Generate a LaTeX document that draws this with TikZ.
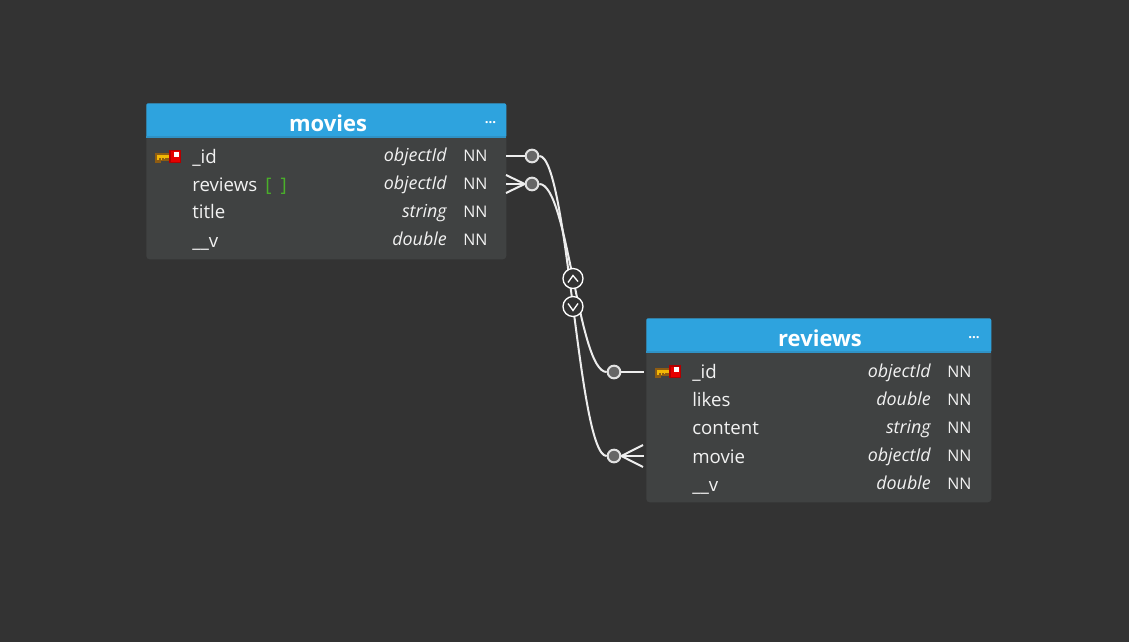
\documentclass[tikz,border=0pt]{standalone}
\usepackage{fontspec}
\setmainfont{Open Sans}
\usetikzlibrary{calc, positioning}
\definecolor{bgcol}{HTML}{333333}
\definecolor{tblcol}{HTML}{404242}
\definecolor{headcol}{HTML}{2EA3DE}
\definecolor{stripecol}{HTML}{2F92C6}
\definecolor{txtcol}{HTML}{F2F2F2}
\definecolor{linecol}{HTML}{EDEDED}
\definecolor{brackcol}{HTML}{4AB02A}
\definecolor{keybrown}{HTML}{8E5C12}
\definecolor{keyyellow}{HTML}{F2B705}
\tikzstyle{tbl}=[inner sep=0pt, draw=none, fill=tblcol, rounded corners=2.5pt, anchor=north west]
\tikzstyle{head}=[inner sep=0pt, fill=headcol, rounded corners=1.5pt, anchor=north west, text=white, font=\fontsize{16.5}{18}\selectfont\bfseries]
\tikzstyle{dots}=[inner sep=0pt, anchor=base, text=white, font=\fontsize{10}{10}\selectfont\bfseries]
\tikzstyle{fname}=[inner sep=0pt, anchor=base west, text=txtcol, font=\fontsize{14}{15}\selectfont]
\tikzstyle{ftype}=[inner sep=0pt, anchor=base east, text=txtcol, font=\fontsize{13.4}{14}\selectfont\itshape]
\tikzstyle{fnn}=[inner sep=0pt, anchor=base west, text=txtcol, font=\fontsize{12}{14}\selectfont]
\tikzstyle{vtx}=[inner sep=0pt, draw=linecol!90!gray, fill=black!60, shape=circle, line width=1.5pt, minimum size=9.5pt]
\tikzstyle{nav}=[inner sep=0pt, draw=white, fill=bgcol, shape=circle, line width=1pt, minimum size=15pt]
\tikzstyle{rel}=[draw=linecol, line width=1.5pt]
\tikzset{
keyicon/.pic={
\fill[keybrown] (0,0) rectangle (15,7.5);
\fill[keybrown] (0,7.5) rectangle (6,9.5);
\fill[keyyellow] (1.5,1.5) rectangle (15,4.5);
\fill[keyyellow] (2,4.5) rectangle (4,7);
\fill[keyyellow] (5.5,4.5) rectangle (7,7);
\fill[keyyellow] (8.5,4.5) rectangle (10,6);
\fill[red!70!black] (14,-3) rectangle (26,10);
\fill[red!90!black] (15.5,-1.5) rectangle (25,8.5);
\fill[white] (19,-.7) rectangle (23.5,4);
}
}

\begin{document}
\begin{tikzpicture}[x=.75pt, y=-.75pt]
\fill[bgcol] (0,0) rectangle (1129,642);
\useasboundingbox (0,0) rectangle (1129,642);

%movies table
\node[tbl, minimum width=270pt, minimum height=117pt] (movies) at (146,103) {};
\node[head, minimum width=270pt, minimum height=26pt] (moviesHead) at (146,103) {};
\fill[stripecol] (146,136) rectangle (506,138);
\node[head, fill=none, anchor=center] (moviesName) at (328,123) {movies};
\node[dots] (moviesDots) at (490.5,123) {...};
\pic at (155,153) {keyicon};
\node[fname] (m1) at (192,163) {\_id};
\node[fname] (m2) at (192,191) {reviews};
\node[fname, text=brackcol] (m2b) at (265,191) {[\,\,\,]};
\node[fname] (m3) at (192,219) {title};
\node[fname] (m4) at (192,247) {\_\_v};
\node[ftype] (mt1) at (447,161.5) {objectId};
\node[ftype] (mt2) at (447,189.5) {objectId};
\node[ftype] (mt3) at (447,217.5) {string};
\node[ftype] (mt4) at (447,245.5) {double};
\node[fnn] (mn1) at (463,161.5) {NN};
\node[fnn] (mn2) at (463,189.5) {NN};
\node[fnn] (mn3) at (463,217.5) {NN};
\node[fnn] (mn4) at (463,245.5) {NN};

%reviews table
\node[tbl, minimum width=258.75pt, minimum height=138pt] (reviews) at (646,318) {};
\node[head, minimum width=258.75pt, minimum height=26pt] (reviewsHead) at (646,318) {};
\fill[stripecol] (646,351) rectangle (991,353);
\node[head, fill=none, anchor=center] (reviewsName) at (820,338) {reviews};
\node[dots] (reviewsDots) at (974,338) {...};
\pic at (655,368) {keyicon};
\node[fname] (r1) at (692,378) {\_id};
\node[fname] (r2) at (692,406) {likes};
\node[fname] (r3) at (692,434) {content};
\node[fname] (r4) at (692,463) {movie};
\node[fname] (r5) at (692,491) {\_\_v};
\node[ftype] (rt1) at (931,377) {objectId};
\node[ftype] (rt2) at (931,405) {double};
\node[ftype] (rt3) at (931,433) {string};
\node[ftype] (rt4) at (931,461) {objectId};
\node[ftype] (rt5) at (931,489) {double};
\node[fnn] (rn1) at (947,377) {NN};
\node[fnn] (rn2) at (947,405) {NN};
\node[fnn] (rn3) at (947,433) {NN};
\node[fnn] (rn4) at (947,461) {NN};
\node[fnn] (rn5) at (947,489) {NN};

%relation ends
\coordinate (s1) at (506,156);
\coordinate (s2) at (506,184);
\coordinate (s2a) at (506,175);
\coordinate (s2b) at (506,193);
\coordinate (e1) at (644,372);
\coordinate (e2) at (644,456);
\coordinate (e2a) at (643,445);
\coordinate (e2b) at (643,467);
\node[vtx] (c1) at (532,156) {};
\node[vtx] (c2) at (532,184) {};
\node[vtx] (d1) at (614,372) {};
\node[vtx] (d2) at (614,456) {};

\draw[rel] (s1) -- (c1);
\draw[rel] (s2) -- (c2);
\draw[rel] (s2a) -- (c2.west);
\draw[rel] (s2b) -- (c2.west);
\draw[rel] (e1) -- (d1);
\draw[rel] (e2) -- (d2);
\draw[rel] (e2a) -- (d2.east);
\draw[rel] (e2b) -- (d2.east);
\draw[rel] (c1) .. controls (568,156) and (578,456) .. (d2);
\draw[rel] (c2) .. controls (568,184) and (578,372) .. (d1);

\node[nav] (up) at (573,278.5) {};
\node[nav] (down) at (573,306.5) {};
\draw[white, line width=1pt] ($(up)+(-5,4)$) -- ($(up)+(0,-3)$) -- ($(up)+(5,3)$);
\draw[white, line width=1pt] ($(down)+(-5,-3)$) -- ($(down)+(0,4)$) -- ($(down)+(5,-3)$);
\end{tikzpicture}
\end{document}
